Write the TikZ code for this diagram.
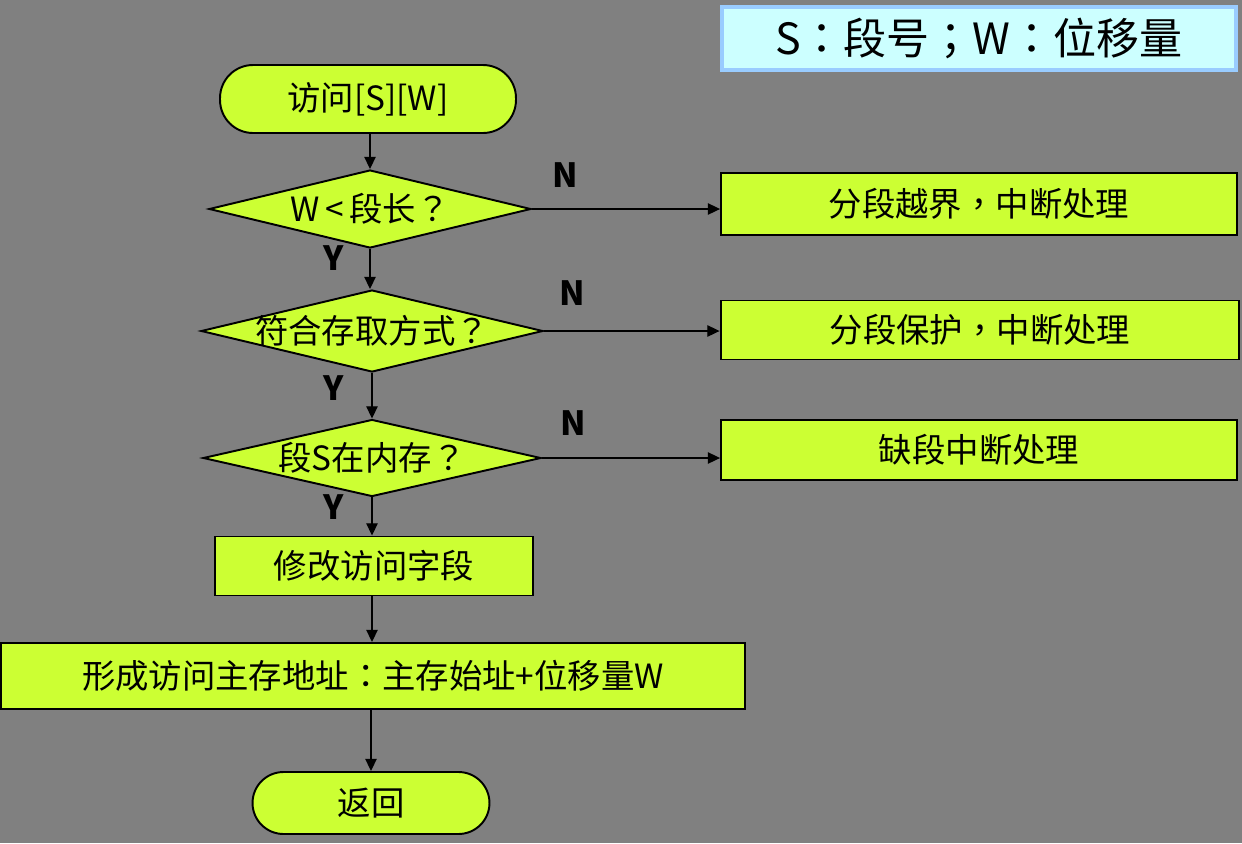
\documentclass[tikz,border=0pt]{standalone}
\usepackage{fontspec}
\setmainfont{Noto Sans CJK SC}
\newfontfamily\ponctfont{Noto Sans CJK TC}
\newcommand{\pt}[1]{{\ponctfont #1}}
\usetikzlibrary{shapes.geometric,arrows.meta}

\definecolor{fond}{HTML}{808080}
\definecolor{vertjaune}{HTML}{CCFF33}
\definecolor{cyanclair}{HTML}{CCFFFF}
\definecolor{bleuclair}{HTML}{99CCFF}

\begin{document}
\begin{tikzpicture}[x=0.02cm, y=-0.02cm, >={Triangle[length=7pt,width=6.5pt]},
  bloc/.style={draw, line width=1.1pt, fill=vertjaune, inner sep=0pt,
    font=\fontsize{19pt}{22pt}\selectfont},
  terminal/.style={bloc, rounded corners=0.66cm},
  losange/.style={bloc, diamond},
  fleche/.style={->, line width=0.8pt},
  lettre/.style={font=\fontsize{19pt}{22pt}\selectfont, inner sep=0pt},
  yn/.style={font=\fontsize{19pt}{22pt}\selectfont\bfseries, inner sep=0pt}]
  % fond et cadre
  \fill[fond] (0,0) rectangle (1242,843);
  \useasboundingbox (0,0) rectangle (1242,843);
  % légende
  \node[draw=bleuclair, line width=0.08cm, fill=cyanclair, minimum width=10.28cm,
    minimum height=1.26cm, font=\fontsize{24.5pt}{28pt}\selectfont] (legende) at (979,38)
    {S\pt{：}段号\pt{；}W\pt{：}位移量};
  % colonne principale
  \node[terminal, minimum width=5.92cm, minimum height=1.36cm] (debut) at (368,99) {访问[S][W]};
  \node[losange, minimum width=6.44cm, minimum height=1.56cm,
    label={[lettre]center:W\,<\,段长\pt{？}}] (test1) at (370,209) {};
  \node[losange, minimum width=6.84cm, minimum height=1.64cm,
    label={[lettre]center:符合存取方式\pt{？}}] (test2) at (372,331) {};
  \node[losange, minimum width=6.76cm, minimum height=1.54cm,
    label={[lettre]center:段S在内存\pt{？}}] (test3) at (372,458) {};
  \node[bloc, minimum width=6.36cm, minimum height=1.18cm] (modif) at (374,566) {修改访问字段};
  \node[bloc, minimum width=14.88cm, minimum height=1.32cm] (adresse) at (373,676)
    {形成访问主存地址\pt{：}主存始址+位移量W};
  \node[terminal, minimum width=4.74cm, minimum height=1.24cm, rounded corners=0.62cm] (retour) at (371,803) {返回};
  % cas d'erreur
  \node[bloc, minimum width=10.32cm, minimum height=1.24cm] (erreur1) at (979,204) {分段越界\pt{，}中断处理};
  \node[bloc, minimum width=10.38cm, minimum height=1.18cm] (erreur2) at (980,330) {分段保护\pt{，}中断处理};
  \node[bloc, minimum width=10.32cm, minimum height=1.2cm] (erreur3) at (979,450) {缺段中断处理};
  % flèches verticales
  \draw[fleche] (debut.south -| test1.north) -- (test1.north);
  \draw[fleche] (test1.south) -- (test1.south |- test2.north);
  \draw[fleche] (test2.south) -- (test2.south |- test3.north);
  \draw[fleche] (test3.south) -- (test3.south |- modif.north);
  \draw[fleche] (modif.south -| test3.south) -- (test3.south |- adresse.north);
  \draw[fleche] (adresse.south -| retour.north) -- (retour.north);
  % flèches horizontales
  \draw[fleche] (test1.east) -- (erreur1.west |- test1.east);
  \draw[fleche] (test2.east) -- (erreur2.west |- test2.east);
  \draw[fleche] (test3.east) -- (erreur3.west |- test3.east);
  % étiquettes Y / N
  \node[yn] (n1) at (565,175) {N};
  \node[yn] (n2) at (572,293) {N};
  \node[yn] (n3) at (573,423) {N};
  \node[yn] (y1) at (334,258) {Y};
  \node[yn] (y2) at (334,388) {Y};
  \node[yn] (y3) at (334,507) {Y};
\end{tikzpicture}
\end{document}
